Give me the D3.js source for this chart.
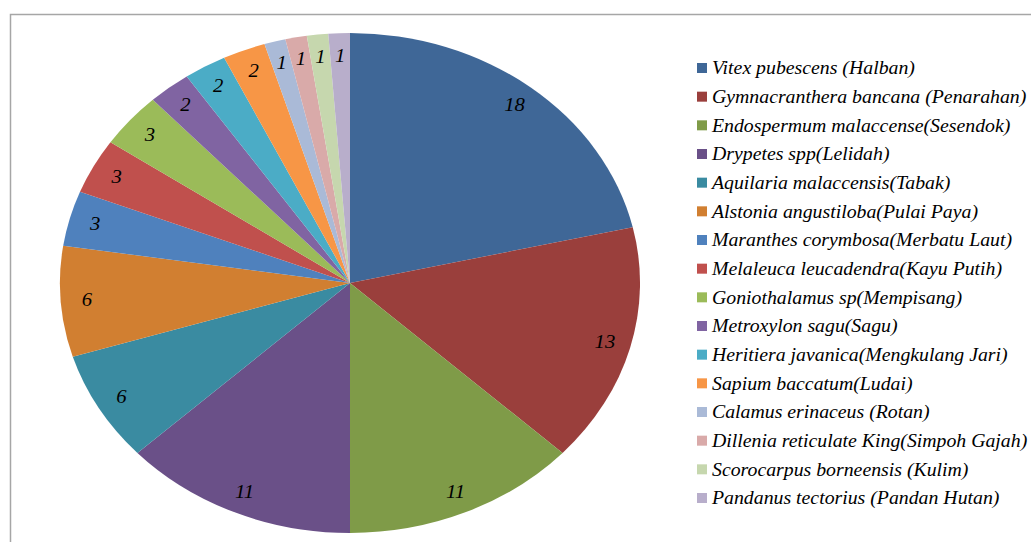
<!DOCTYPE html>
<html>
<head>
<meta charset="utf-8">
<script src="https://cdn.jsdelivr.net/npm/d3@7"></script>
<style>
  body { margin: 0; background: #fff; }
</style>
</head>
<body>
<svg id="chart"></svg>
<script>
// data
const species = [
  'Vitex pubescens (Halban)',
  'Gymnacranthera bancana (Penarahan)',
  'Endospermum malaccense(Sesendok)',
  'Drypetes spp(Lelidah)',
  'Aquilaria malaccensis(Tabak)',
  'Alstonia angustiloba(Pulai Paya)',
  'Maranthes corymbosa(Merbatu Laut)',
  'Melaleuca leucadendra(Kayu Putih)',
  'Goniothalamus sp(Mempisang)',
  'Metroxylon sagu(Sagu)',
  'Heritiera javanica(Mengkulang Jari)',
  'Sapium baccatum(Ludai)',
  'Calamus erinaceus (Rotan)',
  'Dillenia reticulate  King(Simpoh Gajah)',
  'Scorocarpus borneensis (Kulim)',
  'Pandanus tectorius (Pandan Hutan)'
];
const counts = [18, 13, 11, 11, 6, 6, 3, 3, 3, 2, 2, 2, 1, 1, 1, 1];
const colors = [
  '#3F6797', '#9A3F3C', '#7F9B48', '#6A5088', '#3A8BA1', '#D17F31',
  '#4F81BD', '#C0504D', '#9BBB59', '#8064A2', '#4BACC6', '#F79646',
  '#AABAD7', '#D9AAA9', '#C6D7AE', '#B8AECB'
];

const font = 'Liberation Serif';

const drawChart = () => {
  // dimensions
  const width = 1031;
  const height = 542;
  const cx = 350, cy = 283;
  const rx = 290, ry = 250;

  const svg = d3.select('#chart')
    .attr('width', width)
    .attr('height', height);

  // frame
  svg.append('path')
    .attr('d', `M10.5,${height + 5} V14.5 H${width + 5}`)
    .attr('fill', 'none')
    .attr('stroke', '#a6a6a6')
    .attr('stroke-width', 1.5);

  const pie = d3.pie().sort(null).value((d) => d);
  const arcs = pie(counts);

  // unit circle arc, stretched into an ellipse
  const arc = d3.arc().innerRadius(0).outerRadius(1);
  const labelArc = d3.arc().innerRadius(0.91).outerRadius(0.91);

  const g = svg.append('g')
    .attr('transform', `translate(${cx},${cy})`);

  g.append('g')
    .attr('transform', `scale(${rx},${ry})`)
    .selectAll('path')
    .data(arcs)
    .enter()
    .append('path')
    .attr('d', arc)
    .attr('fill', (d, i) => colors[i]);

  g.selectAll('text.lbl')
    .data(arcs)
    .enter()
    .append('text')
    .attr('class', 'lbl')
    .attr('transform', (d) => `translate(${labelArc.centroid(d)[0] * rx},${labelArc.centroid(d)[1] * ry}) scale(1.15,1)`)
    .attr('text-anchor', 'middle')
    .attr('dominant-baseline', 'central')
    .attr('font-family', font)
    .attr('font-style', 'italic')
    .attr('font-size', 18)
    .attr('fill', '#000')
    .text((d) => d.data);

  // legend
  const legendY = d3.scalePoint()
    .domain(species)
    .range([68, 498]);

  const legend = svg.append('g')
    .selectAll('g')
    .data(species)
    .enter()
    .append('g')
    .attr('transform', (d) => `translate(697,${legendY(d)})`);

  legend.append('rect')
    .attr('x', 0)
    .attr('y', -5)
    .attr('width', 10)
    .attr('height', 10)
    .attr('fill', (d, i) => colors[i]);

  legend.append('text')
    .attr('transform', 'translate(15,0) scale(1.1,1)')
    .attr('dominant-baseline', 'central')
    .attr('font-family', font)
    .attr('font-style', 'italic')
    .attr('font-size', 18)
    .attr('fill', '#000')
    .text((d) => d);
};

drawChart();
</script>
</body>
</html>
